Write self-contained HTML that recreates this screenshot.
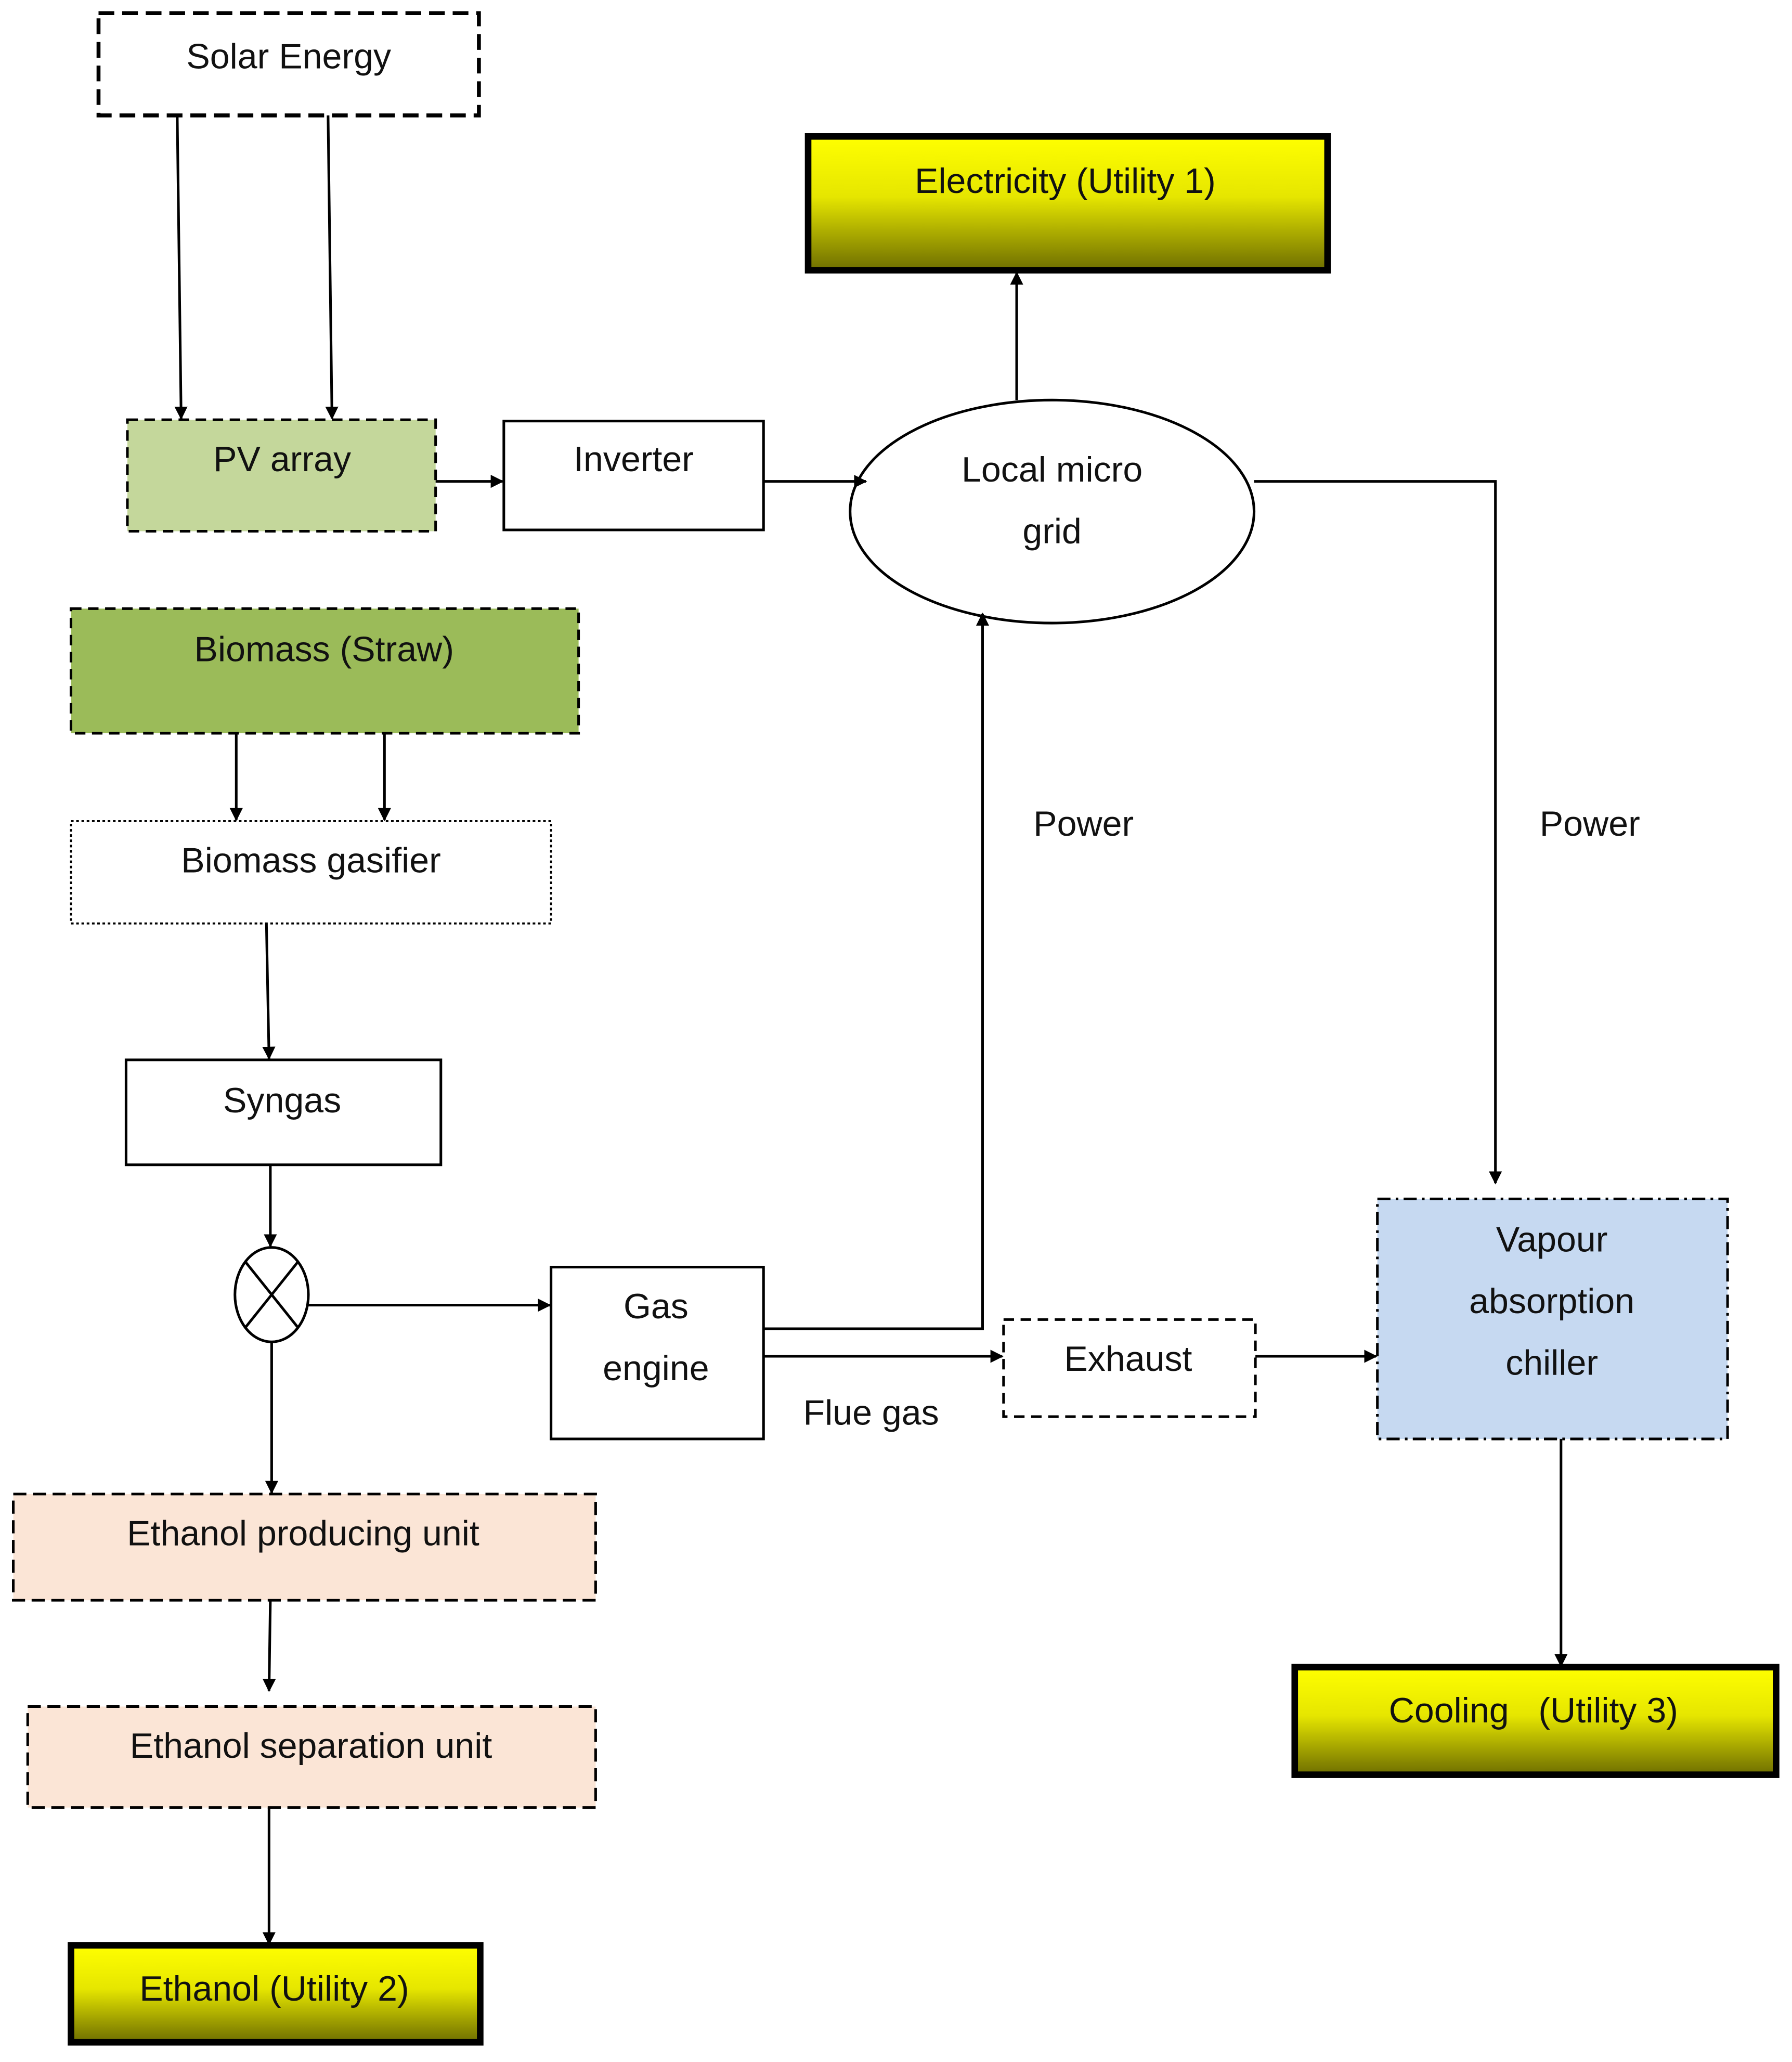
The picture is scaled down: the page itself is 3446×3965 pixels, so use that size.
<!DOCTYPE html>
<html><head><meta charset="utf-8"><style>
html,body{margin:0;padding:0;background:#fff;}
svg{display:block;}
text{font-family:"Liberation Sans",sans-serif;font-size:27px;fill:#111;text-anchor:middle;dominant-baseline:middle;}
</style></head><body>
<svg width="3446" height="3965" viewBox="0 0 1366 1572" xmlns="http://www.w3.org/2000/svg">
<defs>
<linearGradient id="yg" x1="0" y1="0" x2="0" y2="1">
<stop offset="0" stop-color="#ffff00"/><stop offset="0.45" stop-color="#e6e600"/><stop offset="1" stop-color="#6e6e00"/>
</linearGradient>
<marker id="ar" markerWidth="10" markerHeight="10" refX="9" refY="5" orient="auto" markerUnits="userSpaceOnUse" viewBox="0 0 10 10">
<path d="M0,0 L10,5 L0,10 z" fill="#000"/></marker>
</defs>
<g stroke="#000" stroke-width="2" fill="none">
<!-- boxes -->
<rect x="75" y="10" width="290" height="78" fill="#fff" stroke-width="3" stroke-dasharray="12,6"/>
<rect x="97" y="320" width="235" height="85" fill="#c4d79b" stroke-dasharray="8,5"/>
<rect x="384" y="321" width="198" height="83" fill="#fff"/>
<ellipse cx="802" cy="390" rx="154" ry="85" fill="#fff"/>
<rect x="616" y="104" width="396" height="102" fill="url(#yg)" stroke-width="5"/>
<rect x="54" y="464" width="387" height="95" fill="#9bbb59" stroke-dasharray="8,5"/>
<rect x="54" y="626" width="366" height="78" fill="#fff" stroke-width="1.5" stroke-dasharray="2,2"/>
<rect x="96" y="808" width="240" height="80" fill="#fff"/>
<ellipse cx="207" cy="987" rx="28" ry="36" fill="#fff"/>
<line x1="187" y1="962" x2="227" y2="1012"/><line x1="227" y1="962" x2="187" y2="1012"/>
<rect x="420" y="966" width="162" height="131" fill="#fff"/>
<rect x="765" y="1006" width="192" height="74" fill="#fff" stroke-dasharray="8,5"/>
<rect x="1050" y="914" width="267" height="183" fill="#c6d9f1" stroke-dasharray="10,4,2,4"/>
<rect x="987" y="1271" width="367" height="82" fill="url(#yg)" stroke-width="5"/>
<rect x="10" y="1139" width="444" height="81" fill="#fbe5d6" stroke-dasharray="10,5"/>
<rect x="21" y="1301" width="433" height="77" fill="#fbe5d6" stroke-dasharray="10,5"/>
<rect x="54" y="1483" width="312" height="74" fill="url(#yg)" stroke-width="5"/>
<!-- connectors -->
<line x1="135" y1="88" x2="138" y2="319" marker-end="url(#ar)"/>
<line x1="250" y1="88" x2="253" y2="319" marker-end="url(#ar)"/>
<line x1="332" y1="367" x2="383" y2="367" marker-end="url(#ar)"/>
<line x1="582" y1="367" x2="660" y2="367" marker-end="url(#ar)"/>
<line x1="775" y1="305" x2="775" y2="208" marker-end="url(#ar)"/>
<polyline points="956,367 1140,367 1140,902" marker-end="url(#ar)"/>
<line x1="180" y1="559" x2="180" y2="625" marker-end="url(#ar)"/>
<line x1="293" y1="559" x2="293" y2="625" marker-end="url(#ar)"/>
<line x1="203" y1="704" x2="205" y2="807" marker-end="url(#ar)"/>
<line x1="206" y1="888" x2="206" y2="950" marker-end="url(#ar)"/>
<line x1="235" y1="995" x2="419" y2="995" marker-end="url(#ar)"/>
<polyline points="582,1013 749,1013 749,468" marker-end="url(#ar)"/>
<line x1="582" y1="1034" x2="764" y2="1034" marker-end="url(#ar)"/>
<line x1="957" y1="1034" x2="1049" y2="1034" marker-end="url(#ar)"/>
<line x1="1190" y1="1097" x2="1190" y2="1270" marker-end="url(#ar)"/>
<line x1="207" y1="1023" x2="207" y2="1138" marker-end="url(#ar)"/>
<line x1="206" y1="1220" x2="205" y2="1289" marker-end="url(#ar)"/>
<line x1="205" y1="1378" x2="205" y2="1482" marker-end="url(#ar)"/>
</g>
<text x="220" y="45">Solar Energy</text>
<text x="215" y="352">PV array</text>
<text x="483" y="352">Inverter</text>
<text x="802" y="360">Local micro</text>
<text x="802" y="407">grid</text>
<text x="812" y="140">Electricity (Utility 1)</text>
<text x="826" y="630">Power</text>
<text x="1212" y="630">Power</text>
<text x="247" y="497">Biomass (Straw)</text>
<text x="237" y="658">Biomass gasifier</text>
<text x="215" y="841">Syngas</text>
<text x="500" y="998">Gas</text>
<text x="500" y="1045">engine</text>
<text x="664" y="1079">Flue gas</text>
<text x="860" y="1038">Exhaust</text>
<text x="1183" y="947">Vapour</text>
<text x="1183" y="994">absorption</text>
<text x="1183" y="1041">chiller</text>
<text x="1169" y="1306" xml:space="preserve">Cooling   (Utility 3)</text>
<text x="231" y="1171">Ethanol producing unit</text>
<text x="237" y="1333">Ethanol separation unit</text>
<text x="209" y="1518">Ethanol (Utility 2)</text>
</svg>
</body></html>
